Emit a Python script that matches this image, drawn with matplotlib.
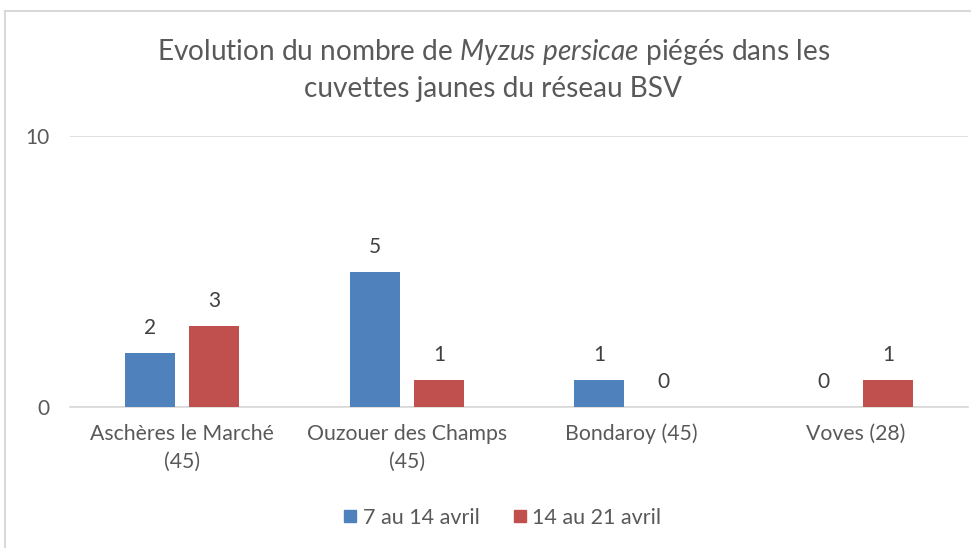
import matplotlib
matplotlib.use('Agg')
from matplotlib import pyplot as plt
from matplotlib.lines import Line2D
import numpy as np

plt.rcParams['font.family'] = ['Lato', 'DejaVu Sans']
plt.rcParams['mathtext.fontset'] = 'custom'
plt.rcParams['mathtext.rm'] = 'Lato'
plt.rcParams['mathtext.it'] = 'Lato:italic'

categories = ['Aschères le Marché\n(45)', 'Ouzouer des Champs\n(45)', 'Bondaroy (45)', 'Voves (28)']
series_names = ['7 au 14 avril', '14 au 21 avril']
week1 = [2, 5, 1, 0]
week2 = [3, 1, 0, 1]
colors = ['#4F81BD', '#C0504D']
text_gray = '#595959'

fig = plt.figure(figsize=(9.71, 5.48), dpi=100)
ax = fig.add_axes([0.072, 0.2573, 0.925, 0.4945])

x = np.arange(len(categories))
width = 0.223
offset = 0.143

for vals, col, dx in zip([week1, week2], colors, [-offset, offset]):
	bars = ax.bar(x + dx, vals, width, color=col, edgecolor='none', zorder=3)
	for b, v in zip(bars, vals):
		ax.annotate(str(v), (b.get_x() + b.get_width() / 2, v),
			xytext=(0, 18), textcoords='offset points',
			ha='center', va='center', fontsize=15, color='#404040')

ax.set_xlim(-0.5, len(categories) - 0.5)
ax.set_ylim(0, 10)
ax.set_yticks([0, 10])
ax.yaxis.grid(True, color='#D9D9D9', linewidth=1.2, zorder=0)
ax.set_xticks(x)
ax.set_xticklabels(categories, fontsize=15.3, color=text_gray, linespacing=1.5)
ax.tick_params(axis='x', length=0, pad=12)
ax.tick_params(axis='y', length=0, pad=15, labelsize=15, labelcolor=text_gray)
for s in ['top', 'right', 'left']:
	ax.spines[s].set_visible(False)
ax.spines['bottom'].set_color('#D9D9D9')
ax.spines['bottom'].set_linewidth(1.2)

fig.text(0.508, 0.873,
	'Evolution du nombre de $\\mathit{Myzus\\ persicae}$ piégés dans les\ncuvettes jaunes du réseau BSV',
	ha='center', va='center', fontsize=20.2, color=text_gray, linespacing=1.45)

handles = [Line2D([0], [0], marker='s', linestyle='none', markersize=9,
	markerfacecolor=c, markeredgecolor=c, label=n) for c, n in zip(colors, series_names)]
fig.legend(handles=handles, loc='center', bbox_to_anchor=(0.517, 0.055), ncol=2,
	frameon=False, fontsize=15.5, labelcolor=text_gray, handlelength=0.7,
	handletextpad=0.25, columnspacing=1.5)

# chart border (cropped screenshot)
fig.add_artist(Line2D([5/971, 5/971], [0, 1 - 11/548], transform=fig.transFigure, color='#D9D9D9', lw=1.5))
fig.add_artist(Line2D([5/971, 1], [1 - 11/548, 1 - 11/548], transform=fig.transFigure, color='#D9D9D9', lw=1.5))

fig.savefig('out.png', dpi=100)
